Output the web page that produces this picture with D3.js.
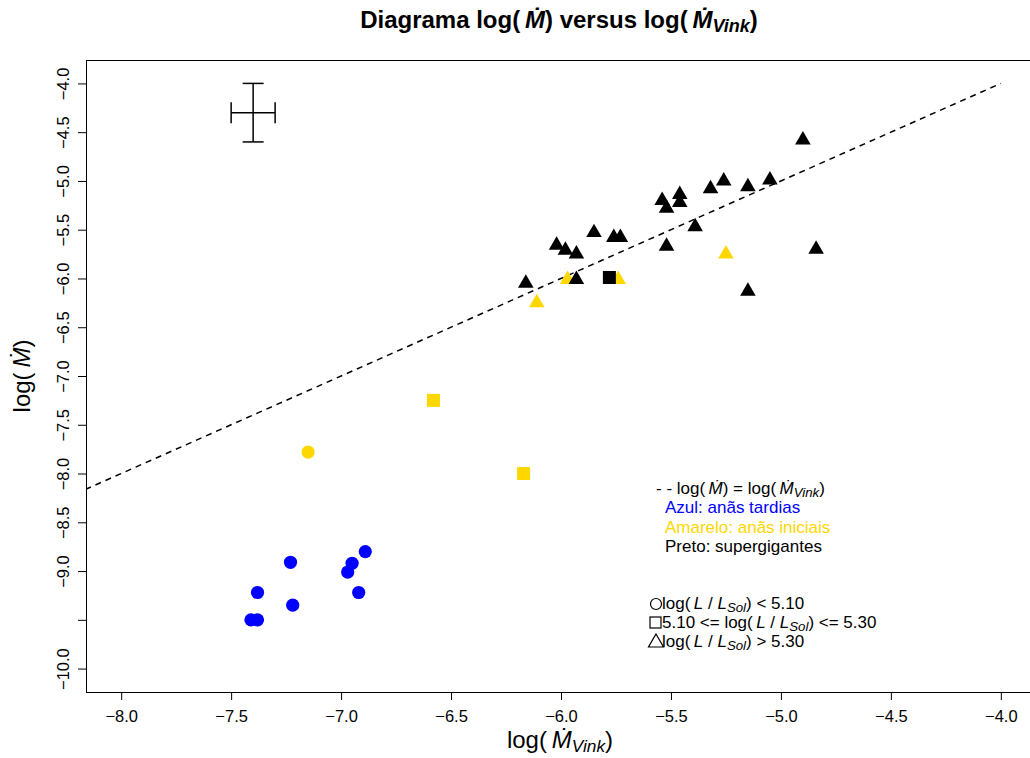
<!DOCTYPE html>
<html>
<head>
<meta charset="utf-8">
<script src="https://cdn.jsdelivr.net/npm/d3@7"></script>
<style>
  html, body { margin: 0; padding: 0; background: #fff; }
  svg { display: block; font-family: "Liberation Sans", Arial, Helvetica, sans-serif; }
</style>
</head>
<body>
<svg id="chart" width="1030" height="758"></svg>
<script>
// ---------- data ----------
const xTicks = [-8.0, -7.5, -7.0, -6.5, -6.0, -5.5, -5.0, -4.5, -4.0];
const xTickLabels = ["\u22128.0", "\u22127.5", "\u22127.0", "\u22126.5", "\u22126.0", "\u22125.5", "\u22125.0", "\u22124.5", "\u22124.0"];
const yTicks = [-4.0, -4.5, -5.0, -5.5, -6.0, -6.5, -7.0, -7.5, -8.0, -8.5, -9.0, -9.5, -10.0];
const yTickLabels = ["\u22124.0", "\u22124.5", "\u22125.0", "\u22125.5", "\u22126.0", "\u22126.5", "\u22127.0", "\u22127.5", "\u22128.0", "\u22128.5", "\u22129.0", "", "\u221210.0"];

// Azul (anãs tardias) - circles
const blueCircleX = [-7.23, -7.38, -7.22, -7.41, -7.38, -6.89, -6.95, -6.97, -6.92];
const blueCircleY = [-8.91, -9.22, -9.35, -9.50, -9.50, -8.80, -8.92, -9.01, -9.22];
// Amarelo (anãs iniciais)
const yellowCircleX = [-7.15];
const yellowCircleY = [-7.78];
const yellowSquareX = [-6.58, -6.17];
const yellowSquareY = [-7.25, -8.00];
const yellowTriangleX = [-5.25, -6.11, -5.97, -5.74];
const yellowTriangleY = [-5.75, -6.25, -6.01, -6.01];
// Preto (supergigantes)
const blackSquareX = [-5.78];
const blackSquareY = [-5.99];
const blackTriangleX = [-4.90, -4.84, -5.15, -5.05, -5.15, -5.26, -5.32, -5.54, -5.52, -5.46, -5.46, -5.39, -5.52, -5.85, -5.76, -5.73, -6.02, -5.98, -5.93, -6.16, -5.93];
const blackTriangleY = [-4.58, -5.70, -6.13, -4.99, -5.06, -5.00, -5.08, -5.20, -5.28, -5.14, -5.22, -5.47, -5.67, -5.53, -5.58, -5.58, -5.66, -5.71, -5.75, -6.05, -6.01];

// reference line log(M) = log(M_Vink)
const refLineX = [-8.3, -4.0];
// typical error bar
const errCenter = [-7.4, -4.3];
const errHalf = [0.1, 0.3];

// ---------- layout ----------
const svg = d3.select("#chart");
const mLeft = 86, mRight = 1036, mTop = 60, mBottom = 692;
const x = d3.scaleLinear().domain([-8.16, -3.84]).range([mLeft, mRight]);
const y = d3.scaleLinear().domain([-10.24, -3.76]).range([mBottom, mTop]);

const COL = { blue: "#0000FF", gold: "#FFD700", black: "#000000" };
const TS = "\u2009"; // thin space (plotmath-like spacing)

function mathText(sel, parts, baseSize, subScale) {
  const ss = subScale || 0.72;
  parts.forEach(p => {
    const t = sel.append("tspan").text(p.t);
    if (p.it) t.attr("font-style", "italic");
    if (p.sub) t.attr("font-size", baseSize * ss).attr("baseline-shift", "-22%");
  });
  return sel;
}

svg.append("defs").append("clipPath").attr("id", "plotclip")
  .append("rect").attr("x", mLeft).attr("y", mTop).attr("width", mRight - mLeft).attr("height", mBottom - mTop);

// title
const tf = 24;
mathText(svg.append("text").attr("x", 559).attr("y", 28).attr("text-anchor", "middle")
  .attr("font-size", tf).attr("font-weight", "bold"),
  [{t: "Diagrama log(" + TS}, {t: "\u1E40", it: true}, {t: ") versus log(" + TS}, {t: "\u1E40", it: true}, {t: "Vink", it: true, sub: true}, {t: ")"}], tf, 0.75);

// axes
const af = 16.5;
const xAxis = d3.axisBottom(x).tickValues(xTicks).tickSize(8).tickPadding(10)
  .tickFormat((d, i) => xTickLabels[i]);
const gx = svg.append("g").attr("transform", `translate(0,${mBottom})`).call(xAxis);
gx.select(".domain").remove();
gx.selectAll("text").attr("font-size", af).attr("font-family", "Liberation Sans, Arial, sans-serif").attr("fill", "#000");
gx.selectAll("line").attr("stroke", "#000");

const yAxis = d3.axisLeft(y).tickValues(yTicks).tickSize(8).tickFormat((d, i) => yTickLabels[i]);
const gy = svg.append("g").attr("transform", `translate(${mLeft},0)`).call(yAxis);
gy.select(".domain").remove();
gy.selectAll("line").attr("stroke", "#000");
gy.selectAll("text")
  .attr("font-size", af).attr("font-family", "Liberation Sans, Arial, sans-serif").attr("fill", "#000")
  .attr("text-anchor", "middle").attr("x", null).attr("dy", null)
  .attr("transform", "translate(-17.5,0) rotate(-90)");

// axis titles
const lab = 24;
mathText(svg.append("text").attr("x", 560).attr("y", 748).attr("text-anchor", "middle").attr("font-size", lab),
  [{t: "log(" + TS}, {t: "\u1E40", it: true}, {t: "Vink", it: true, sub: true}, {t: ")"}], lab);
mathText(svg.append("text").attr("transform", "translate(30,376) rotate(-90)").attr("text-anchor", "middle").attr("font-size", lab),
  [{t: "log(" + TS}, {t: "\u1E40", it: true}, {t: ")"}], lab);

// box
svg.append("rect").attr("x", mLeft + 0.5).attr("y", mTop + 0.5).attr("width", mRight - mLeft).attr("height", mBottom - mTop)
  .attr("fill", "none").attr("stroke", "#000").attr("stroke-width", 1);

const plot = svg.append("g").attr("clip-path", "url(#plotclip)");

// reference line
plot.append("line")
  .attr("x1", x(refLineX[0])).attr("y1", y(refLineX[0]))
  .attr("x2", x(refLineX[1])).attr("y2", y(refLineX[1]))
  .attr("stroke", "#000").attr("stroke-width", 1.5).attr("stroke-dasharray", "6,5");

// error bar
const cap = 10.5;
const eb = plot.append("g").attr("stroke", "#000").attr("stroke-width", 1.5);
eb.append("line").attr("x1", x(errCenter[0])).attr("x2", x(errCenter[0]))
  .attr("y1", y(errCenter[1] + errHalf[1])).attr("y2", y(errCenter[1] - errHalf[1]));
[errCenter[1] + errHalf[1], errCenter[1] - errHalf[1]].forEach(v =>
  eb.append("line").attr("x1", x(errCenter[0]) - cap).attr("x2", x(errCenter[0]) + cap).attr("y1", y(v)).attr("y2", y(v)));
eb.append("line").attr("y1", y(errCenter[1])).attr("y2", y(errCenter[1]))
  .attr("x1", x(errCenter[0] - errHalf[0])).attr("x2", x(errCenter[0] + errHalf[0]));
[errCenter[0] - errHalf[0], errCenter[0] + errHalf[0]].forEach(v =>
  eb.append("line").attr("y1", y(errCenter[1]) - cap).attr("y2", y(errCenter[1]) + cap).attr("x1", x(v)).attr("x2", x(v)));

// points
const shapes = {
  circle: d3.symbol().type(d3.symbolCircle).size(Math.PI * 6.6 * 6.6),
  square: d3.symbol().type(d3.symbolSquare).size(13 * 13),
  triangle: d3.symbol().type(d3.symbolTriangle).size(105)
};
function drawPts(xs, ys, shape, color) {
  plot.append("g").selectAll("path").data(xs.map((d, i) => [d, ys[i]])).join("path")
    .attr("d", shapes[shape]())
    .attr("transform", d => `translate(${x(d[0])},${y(d[1])})`)
    .attr("fill", color);
}
drawPts(blueCircleX, blueCircleY, "circle", COL.blue);
drawPts(yellowCircleX, yellowCircleY, "circle", COL.gold);
drawPts(yellowSquareX, yellowSquareY, "square", COL.gold);
drawPts(yellowTriangleX, yellowTriangleY, "triangle", COL.gold);
drawPts(blackTriangleX, blackTriangleY, "triangle", COL.black);
drawPts(blackSquareX, blackSquareY, "square", COL.black);

// legend 1
const lf = 17;
mathText(svg.append("text").attr("x", 656).attr("y", 494).attr("font-size", lf),
  [{t: "- -  log(" + TS}, {t: "\u1E40", it: true}, {t: ") = log(" + TS}, {t: "\u1E40", it: true}, {t: "Vink", it: true, sub: true}, {t: ")"}], lf, 0.78);
svg.append("text").attr("x", 665).attr("y", 513).attr("font-size", lf).attr("fill", COL.blue).text("Azul: anãs tardias");
svg.append("text").attr("x", 665).attr("y", 533).attr("font-size", lf).attr("fill", COL.gold).text("Amarelo: anãs iniciais");
svg.append("text").attr("x", 665).attr("y", 552).attr("font-size", lf).attr("fill", "#000").text("Preto: supergigantes");

// legend 2
const lg = svg.append("g");
lg.append("circle").attr("cx", 656).attr("cy", 604).attr("r", 5.5).attr("fill", "none").attr("stroke", "#000").attr("stroke-width", 1.2);
lg.append("rect").attr("x", 650).attr("y", 617).attr("width", 11).attr("height", 11).attr("fill", "none").attr("stroke", "#000").attr("stroke-width", 1.2);
lg.append("path").attr("d", "M656,634 L663.5,647 L648.5,647 Z").attr("fill", "none").attr("stroke", "#000").attr("stroke-width", 1.2);
mathText(svg.append("text").attr("x", 662).attr("y", 609).attr("font-size", lf),
  [{t: "log(" + TS}, {t: "L", it: true}, {t: " / "}, {t: "L", it: true}, {t: "Sol", it: true, sub: true}, {t: ") < 5.10"}], lf, 0.78);
mathText(svg.append("text").attr("x", 662).attr("y", 628).attr("font-size", lf),
  [{t: "5.10 <= log(" + TS}, {t: "L", it: true}, {t: " / "}, {t: "L", it: true}, {t: "Sol", it: true, sub: true}, {t: ") <= 5.30"}], lf, 0.78);
mathText(svg.append("text").attr("x", 662).attr("y", 647).attr("font-size", lf),
  [{t: "log(" + TS}, {t: "L", it: true}, {t: " / "}, {t: "L", it: true}, {t: "Sol", it: true, sub: true}, {t: ") > 5.30"}], lf, 0.78);
</script>
</body>
</html>
